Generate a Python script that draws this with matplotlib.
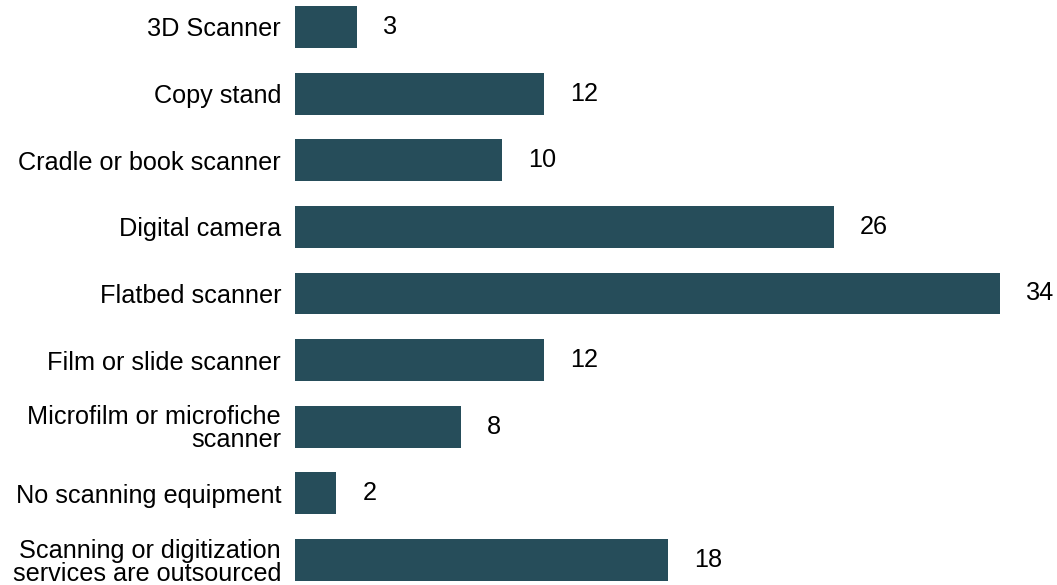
import matplotlib.pyplot as plt

plt.rcParams['font.family'] = ['Liberation Sans', 'DejaVu Sans']

categories = [
    "3D Scanner",
    "Copy stand",
    "Cradle or book scanner",
    "Digital camera",
    "Flatbed scanner",
    "Film or slide scanner",
    "Microfilm or microfiche\nscanner",
    "No scanning equipment",
    "Scanning or digitization\nservices are outsourced",
]
counts = [3, 12, 10, 26, 34, 12, 8, 2, 18]

bar_color = "#264d5a"
fs = 18.2

fig = plt.figure(figsize=(10.57, 5.85), dpi=100)
ax = fig.add_axes([295 / 1057, 0, 1 - 295 / 1057, 1])

ypos = range(len(categories))
ax.barh(ypos, counts, height=0.63, color=bar_color)

for y, v in zip(ypos, counts):
    ax.text(v + 1.25, y, str(v), va="center", ha="left", fontsize=fs, color="black")

ax.set_yticks(list(ypos))
ax.set_yticklabels(categories, fontsize=fs, linespacing=0.95)
ax.tick_params(axis="y", length=0, pad=10)
ax.set_xticks([])
ax.set_xlim(0, 36.74)
ax.set_ylim(8.375, -0.405)
for s in ax.spines.values():
    s.set_visible(False)

fig.savefig("out.png", dpi=100)
